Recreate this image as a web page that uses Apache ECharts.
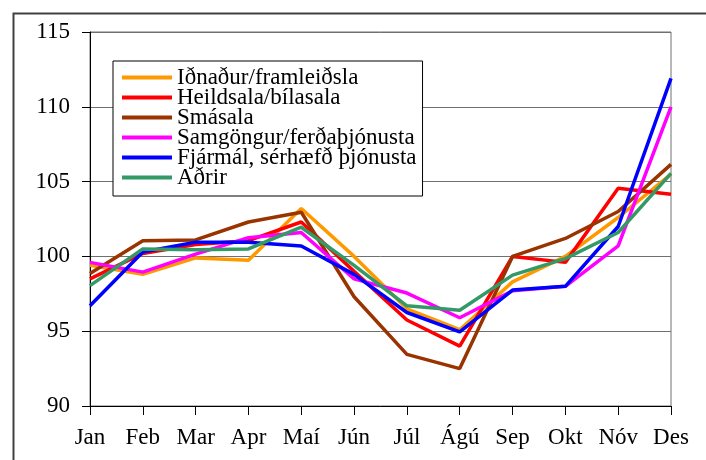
<!DOCTYPE html>
<html>
<head>
<meta charset="utf-8">
<script src="https://cdn.jsdelivr.net/npm/echarts@6/dist/echarts.min.js"></script>
<style>html,body{margin:0;padding:0;background:#fff;}#c{width:706px;height:460px;}</style>
</head>
<body>
<div id="c"></div>
<script>
var months = ['Jan','Feb','Mar','Apr','Maí','Jún','Júl','Ágú','Sep','Okt','Nóv','Des'];
var yTicks = [90, 95, 100, 105, 110, 115];
var seriesNames = ['Iðnaður/framleiðsla','Heildsala/bílasala','Smásala','Samgöngur/ferðaþjónusta','Fjármál, sérhæfð þjónusta','Aðrir'];
var idnadur    = [99.4, 98.8, 99.9, 99.75, 103.2, 100.0, 96.5, 95.1, 98.3, 100.0, 102.6, 105.5];
var heildsala  = [98.5, 100.2, 100.8, 101.05, 102.3, 99.0, 95.75, 94.0, 100.0, 99.6, 104.55, 104.15];
var smasala    = [98.85, 101.05, 101.1, 102.3, 102.95, 97.3, 93.45, 92.5, 100.0, 101.2, 103.0, 106.15];
var samgongur  = [99.6, 98.95, 100.15, 101.25, 101.6, 98.5, 97.55, 95.9, 97.7, 98.0, 100.7, 110.0];
var fjarmal    = [96.7, 100.3, 100.95, 100.95, 100.7, 98.8, 96.25, 94.95, 97.75, 98.0, 102.0, 111.9];
var adrir      = [98.05, 100.5, 100.45, 100.5, 101.95, 99.4, 96.7, 96.4, 98.75, 99.85, 101.6, 105.55];
var colors = ['#FF9900','#FF0000','#993300','#FF00FF','#0000FF','#339966'];
var allData = [idnadur, heildsala, smasala, samgongur, fjarmal, adrir];

var font = 'Liberation Serif';
var chart = echarts.init(document.getElementById('c'), null, {renderer:'canvas'});
var series = seriesNames.map(function(n, i){
  return {
    name: n, type: 'line', data: allData[i], symbol: 'none', smooth: false,
    lineStyle: {width: 3.5, color: colors[i]}, itemStyle: {color: colors[i]},
    emphasis: {disabled: true}, animation: false
  };
});
chart.setOption({
  animation: false,
  graphic: [{
    type: 'rect', left: 11, top: 11, z: 0,
    shape: {x: 0, y: 0, width: 800, height: 800},
    style: {fill: 'none', stroke: '#404040', lineWidth: 2}
  }],
  grid: {left: 90, right: 35, top: 32, bottom: 54, show: true, borderColor: '#707070', borderWidth: 1, backgroundColor: 'transparent'},
  legend: {
    orient: 'vertical', left: 113, top: 61,
    data: seriesNames, icon: 'rect', itemWidth: 50, itemHeight: 4, itemGap: -3,
    padding: [5, 6, 7, 9],
    borderColor: '#000', borderWidth: 1, backgroundColor: '#fff',
    textStyle: {fontFamily: font, fontSize: 23, color: '#000', lineHeight: 19.5},
    selectedMode: false
  },
  xAxis: {
    type: 'category', data: months, boundaryGap: false,
    axisLine: {lineStyle: {color: '#000', width: 1}},
    axisTick: {show: true, length: 9, lineStyle: {color: '#000'}},
    axisLabel: {fontFamily: font, fontSize: 23, color: '#000', margin: 20, interval: 0},
    splitLine: {show: false}
  },
  yAxis: {
    type: 'value', min: yTicks[0], max: yTicks[yTicks.length-1], interval: 5,
    axisLine: {show: true, lineStyle: {color: '#000', width: 1}},
    axisTick: {show: true, length: 8, lineStyle: {color: '#000'}},
    axisLabel: {fontFamily: font, fontSize: 23, color: '#000', margin: 20},
    splitLine: {show: true, lineStyle: {color: '#707070', width: 1}}
  },
  series: series
});
</script>
</body>
</html>
